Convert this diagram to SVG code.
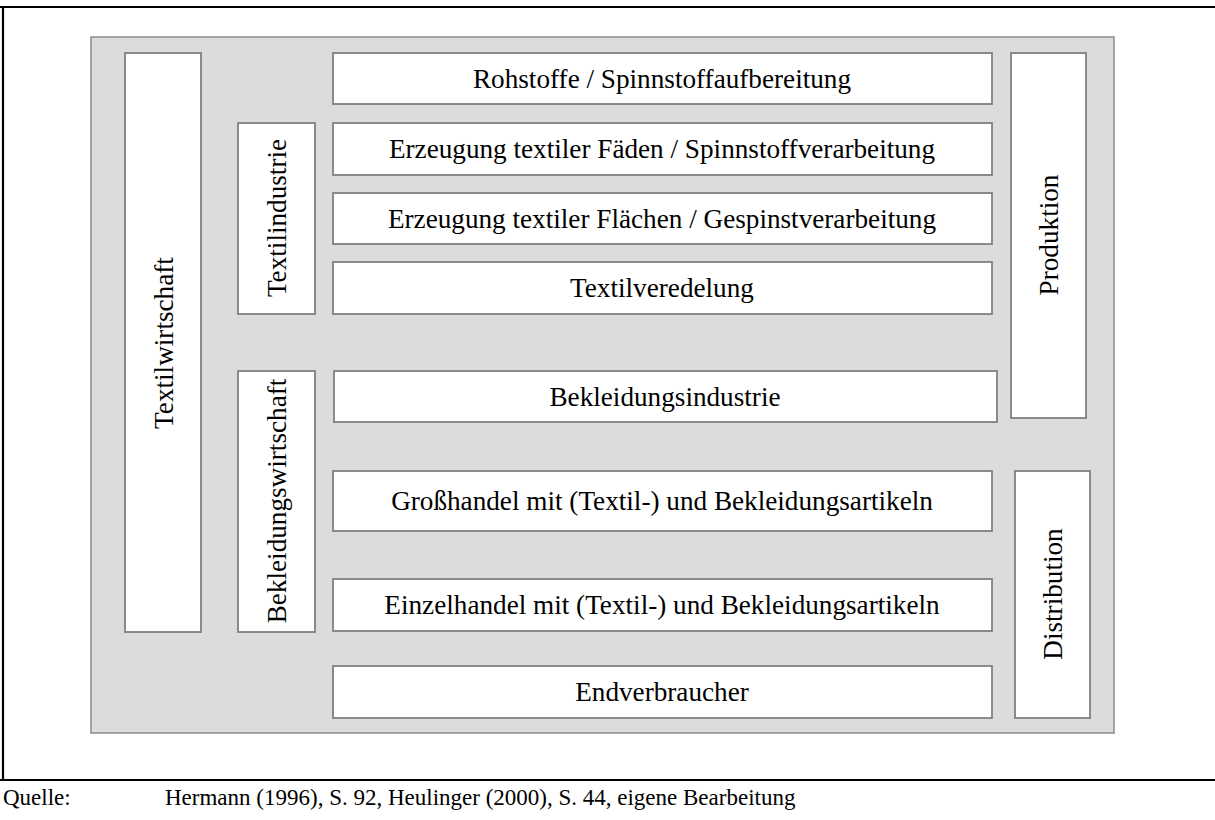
<svg xmlns="http://www.w3.org/2000/svg" width="1215" height="820" viewBox="0 0 1215 820">
<style>
.frame{stroke:#000;stroke-width:2.2;fill:none}
.bg{fill:#dcdcdc;stroke:#8a8a8a;stroke-width:1.5}
.box{fill:#fff;stroke:#808080;stroke-width:1.8}
text{fill:#000}
.t{text-anchor:middle;dominant-baseline:central}
</style>
<rect width="1215" height="820" fill="#fff"/>
<g id="frame">
<line class="frame" x1="0" y1="7" x2="1215" y2="7"/>
<line class="frame" x1="3" y1="7" x2="3" y2="780"/>
<line class="frame" x1="0" y1="780" x2="1215" y2="780"/>
</g>
<rect id="background" class="bg" x="91" y="37" width="1023" height="696"/>
<g font-family="Liberation Serif, Times New Roman, serif" font-size="27.2">
<g id="textilwirtschaft"><rect class="box" x="125" y="53" width="76" height="579"/><text class="t" transform="translate(164,343) rotate(-90)">Textilwirtschaft</text></g>
<g id="textilindustrie"><rect class="box" x="238" y="123" width="77" height="191"/><text class="t" transform="translate(277,218) rotate(-90)">Textilindustrie</text></g>
<g id="bekleidungswirtschaft"><rect class="box" x="238" y="371" width="77" height="261"/><text class="t" transform="translate(277,501) rotate(-90)">Bekleidungswirtschaft</text></g>
<g id="produktion"><rect class="box" x="1011" y="53" width="75" height="365"/><text class="t" transform="translate(1049,235) rotate(-90)">Produktion</text></g>
<g id="distribution"><rect class="box" x="1015" y="471" width="75" height="247"/><text class="t" transform="translate(1053,594) rotate(-90)">Distribution</text></g>
<g id="rohstoffe"><rect class="box" x="333" y="53" width="659" height="51"/><text class="t" x="662" y="79">Rohstoffe / Spinnstoffaufbereitung</text></g>
<g id="faeden"><rect class="box" x="333" y="123" width="659" height="52"/><text class="t" x="662" y="149">Erzeugung textiler Fäden / Spinnstoffverarbeitung</text></g>
<g id="flaechen"><rect class="box" x="333" y="193" width="659" height="51"/><text class="t" x="662" y="219">Erzeugung textiler Flächen / Gespinstverarbeitung</text></g>
<g id="veredelung"><rect class="box" x="333" y="262" width="659" height="52"/><text class="t" x="662" y="288">Textilveredelung</text></g>
<g id="bekleidungsindustrie"><rect class="box" x="334" y="371" width="663" height="51"/><text class="t" x="665" y="397">Bekleidungsindustrie</text></g>
<g id="grosshandel"><rect class="box" x="333" y="471" width="659" height="60"/><text class="t" x="662" y="501">Großhandel mit (Textil-) und Bekleidungsartikeln</text></g>
<g id="einzelhandel"><rect class="box" x="333" y="579" width="659" height="52"/><text class="t" x="662" y="605">Einzelhandel mit (Textil-) und Bekleidungsartikeln</text></g>
<g id="endverbraucher"><rect class="box" x="333" y="666" width="659" height="52"/><text class="t" x="662" y="692">Endverbraucher</text></g>
</g>
<g id="quelle" font-family="Liberation Serif, Times New Roman, serif" font-size="23"><text x="3" y="805">Quelle:</text><text x="165" y="805">Hermann (1996), S. 92, Heulinger (2000), S. 44, eigene Bearbeitung</text></g>
</svg>
